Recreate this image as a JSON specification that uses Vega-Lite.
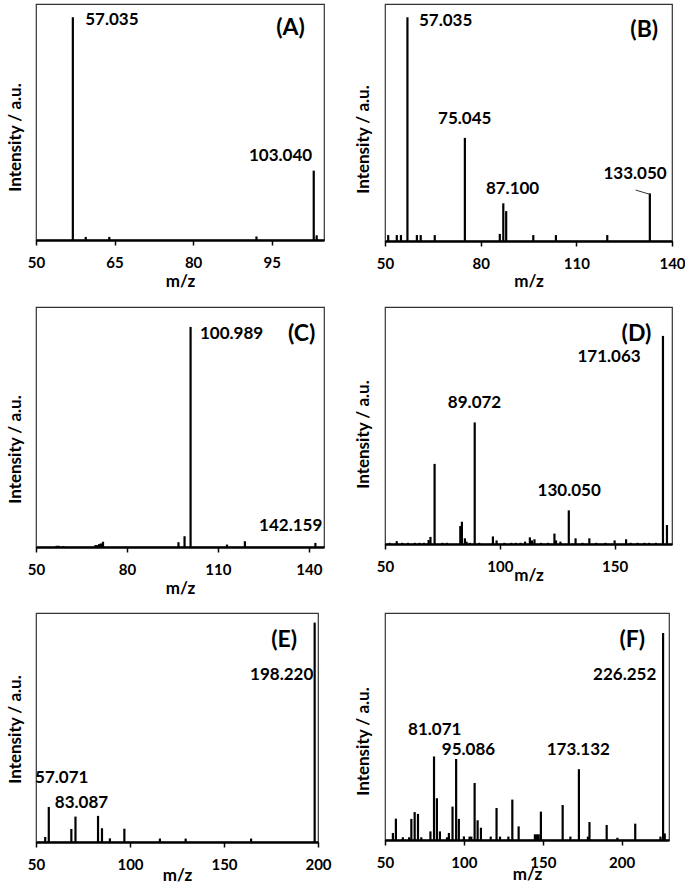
{
  "$schema": "https://vega.github.io/schema/vega-lite/v6.json",
  "padding": {"left": 5, "top": 3, "right": 0, "bottom": 0},
  "background": "white",
  "bounds": "flush",
  "columns": 2,
  "spacing": {"row": 66, "column": 61},
  "datasets": {
    "A": [
      {"mz": 57.035, "i": 94.4}, {"mz": 59.5, "i": 1.3}, {"mz": 64.0, "i": 1.3}, {"mz": 92.1, "i": 1.5},
      {"mz": 103.04, "i": 29.4}, {"mz": 103.6, "i": 2}
    ],
    "Alab": [
      {"mz": 64.5, "i": 93.4, "t": "57.035", "k": "p"},
      {"mz": 96.7, "i": 35.5, "t": "103.040", "k": "p"},
      {"mz": 98.6, "i": 89.8, "t": "(A)", "k": "L"}
    ],
    "B": [
      {"mz": 51, "i": 2.5}, {"mz": 53.7, "i": 2.5}, {"mz": 55, "i": 2.5}, {"mz": 57.035, "i": 94.4},
      {"mz": 60, "i": 2.5}, {"mz": 61.2, "i": 2.5}, {"mz": 65.6, "i": 2.5}, {"mz": 75.045, "i": 43.5},
      {"mz": 86.0, "i": 3}, {"mz": 87.1, "i": 15.9}, {"mz": 88, "i": 12.6}, {"mz": 96.5, "i": 2.5},
      {"mz": 103.6, "i": 2.5}, {"mz": 119.7, "i": 2.5}, {"mz": 133.05, "i": 20.1}
    ],
    "Blab": [
      {"mz": 69, "i": 93, "t": "57.035", "k": "p"},
      {"mz": 75, "i": 51.3, "t": "75.045", "k": "p"},
      {"mz": 90, "i": 22, "t": "87.100", "k": "p"},
      {"mz": 128.4, "i": 28.4, "t": "133.050", "k": "p"},
      {"mz": 131.3, "i": 89.1, "t": "(B)", "k": "L"}
    ],
    "Blead": [{"mz": 128.6, "i": 21.5, "mz2": 133.0, "i2": 19.7}],
    "C": [
      {"mz": 56.8, "i": 0.5}, {"mz": 57.5, "i": 0.5}, {"mz": 59, "i": 0.4}, {"mz": 69.6, "i": 0.8},
      {"mz": 70.2, "i": 0.8}, {"mz": 70.8, "i": 1.2}, {"mz": 71.4, "i": 1.5}, {"mz": 72.1, "i": 2.2},
      {"mz": 97, "i": 2}, {"mz": 99, "i": 4.5}, {"mz": 100.989, "i": 91.7}, {"mz": 113, "i": 1},
      {"mz": 118.9, "i": 2.4}, {"mz": 142.159, "i": 1.7}
    ],
    "Clab": [
      {"mz": 114.5, "i": 88.6, "t": "100.989", "k": "p"},
      {"mz": 134, "i": 8.9, "t": "142.159", "k": "p"},
      {"mz": 137.6, "i": 88.9, "t": "(C)", "k": "L"}
    ],
    "D": [
      {"mz": 52, "i": 0.5}, {"mz": 55.1, "i": 1.2}, {"mz": 57.5, "i": 0.5}, {"mz": 60, "i": 0.5},
      {"mz": 63, "i": 0.5}, {"mz": 65, "i": 0.5}, {"mz": 67, "i": 0.5}, {"mz": 69, "i": 1.7},
      {"mz": 69.8, "i": 3}, {"mz": 71.6, "i": 33.8}, {"mz": 75, "i": 0.5}, {"mz": 77, "i": 0.5},
      {"mz": 82.8, "i": 7.6}, {"mz": 83.5, "i": 9.4}, {"mz": 84.8, "i": 2.4}, {"mz": 85.5, "i": 1},
      {"mz": 87, "i": 0.5}, {"mz": 89.072, "i": 51.3}, {"mz": 91, "i": 0.5}, {"mz": 97, "i": 3.2},
      {"mz": 98.6, "i": 1.5}, {"mz": 102, "i": 0.5}, {"mz": 105, "i": 0.5}, {"mz": 107, "i": 0.5},
      {"mz": 109, "i": 0.5}, {"mz": 111, "i": 1}, {"mz": 113.1, "i": 2.8}, {"mz": 114, "i": 1.5},
      {"mz": 115.1, "i": 2}, {"mz": 118, "i": 0.5}, {"mz": 121, "i": 0.5}, {"mz": 123.8, "i": 4.4},
      {"mz": 124.5, "i": 1.5}, {"mz": 126.4, "i": 1}, {"mz": 130.05, "i": 14.2}, {"mz": 133, "i": 2.4},
      {"mz": 136, "i": 0.5}, {"mz": 139, "i": 2.4}, {"mz": 142, "i": 0.5}, {"mz": 146, "i": 0.5},
      {"mz": 150, "i": 1.5}, {"mz": 155, "i": 2}, {"mz": 157, "i": 0.5}, {"mz": 160, "i": 0.5},
      {"mz": 163, "i": 0.5}, {"mz": 165, "i": 0.5}, {"mz": 168, "i": 0.5}, {"mz": 171.063, "i": 87.8},
      {"mz": 172.8, "i": 8}
    ],
    "Dlab": [
      {"mz": 147.6, "i": 78.9, "t": "171.063", "k": "p"},
      {"mz": 89, "i": 59.6, "t": "89.072", "k": "p"},
      {"mz": 130.2, "i": 22.5, "t": "130.050", "k": "p"},
      {"mz": 159.5, "i": 88.8, "t": "(D)", "k": "L"}
    ],
    "E": [
      {"mz": 54.9, "i": 2.2}, {"mz": 56.8, "i": 15.3}, {"mz": 68.8, "i": 5.7}, {"mz": 71, "i": 11.1},
      {"mz": 83, "i": 11.4}, {"mz": 85.1, "i": 6}, {"mz": 89.3, "i": 1.6}, {"mz": 97, "i": 5.8},
      {"mz": 115.9, "i": 1.5}, {"mz": 129.6, "i": 1.5}, {"mz": 164.4, "i": 1.5}, {"mz": 198.22, "i": 95.8}
    ],
    "Elab": [
      {"mz": 63.7, "i": 28.1, "t": "57.071", "k": "p"},
      {"mz": 74.2, "i": 17.2, "t": "83.087", "k": "p"},
      {"mz": 180.7, "i": 73.1, "t": "198.220", "k": "p"},
      {"mz": 182, "i": 88, "t": "(E)", "k": "L"}
    ],
    "F": [
      {"mz": 55, "i": 3.1}, {"mz": 56.9, "i": 9.4}, {"mz": 61.3, "i": 1.2}, {"mz": 65.3, "i": 1.2},
      {"mz": 66.7, "i": 9.3}, {"mz": 68.8, "i": 12.3}, {"mz": 70.9, "i": 11.5}, {"mz": 73, "i": 1.2},
      {"mz": 78.8, "i": 3.8}, {"mz": 81.071, "i": 36.8}, {"mz": 82.9, "i": 18.4}, {"mz": 84.8, "i": 3.8},
      {"mz": 89.3, "i": 1.2}, {"mz": 90.5, "i": 3.1}, {"mz": 92.8, "i": 14.7}, {"mz": 95.086, "i": 35.7},
      {"mz": 96.8, "i": 9.3}, {"mz": 100, "i": 1.6}, {"mz": 103.6, "i": 1.5}, {"mz": 104.7, "i": 1.5},
      {"mz": 106.8, "i": 25.1}, {"mz": 108.7, "i": 8.7}, {"mz": 110.8, "i": 5.4}, {"mz": 117, "i": 1.5},
      {"mz": 120.7, "i": 14.1}, {"mz": 122.9, "i": 1.5}, {"mz": 128.2, "i": 1.5}, {"mz": 130.7, "i": 17.8},
      {"mz": 134.7, "i": 6}, {"mz": 145, "i": 2.5}, {"mz": 146.3, "i": 2.5}, {"mz": 147.4, "i": 2.5},
      {"mz": 148.8, "i": 12.5}, {"mz": 162.6, "i": 15.4}, {"mz": 167.5, "i": 1.5}, {"mz": 172.9, "i": 31.2},
      {"mz": 178.6, "i": 1.5}, {"mz": 179.6, "i": 7.9}, {"mz": 190.5, "i": 6.6}, {"mz": 197.3, "i": 1},
      {"mz": 208.6, "i": 7.2}, {"mz": 224.6, "i": 1.5}, {"mz": 226.252, "i": 91.2}, {"mz": 227.3, "i": 2.9}
    ],
    "Flab": [
      {"mz": 81.5, "i": 48.5, "t": "81.071", "k": "p"},
      {"mz": 102.9, "i": 39.7, "t": "95.086", "k": "p"},
      {"mz": 172.5, "i": 39.7, "t": "173.132", "k": "p"},
      {"mz": 201.9, "i": 72.5, "t": "226.252", "k": "p"},
      {"mz": 206.7, "i": 87.9, "t": "(F)", "k": "L"}
    ]
  },
  "concat": [
    {
      "width": 288, "height": 236,
      "layer": [
        {"data": {"name": "A"}, "mark": {"type": "rule", "color": "black", "strokeWidth": 2.2},
         "encoding": {
           "x": {"field": "mz", "type": "quantitative", "scale": {"domain": [50, 105], "nice": false, "zero": false},
                 "axis": {"values": [50, 65, 80, 95], "title": "m/z", "titleY": 41}},
           "y": {"field": "i", "type": "quantitative", "scale": {"domain": [0, 100], "nice": false},
                 "axis": {"title": "Intensity / a.u.", "titleX": -21, "titleY": 133}},
           "y2": {"datum": 0}}},
        {"data": {"name": "Alab"}, "transform": [{"filter": "datum.k == 'p'"}], "mark": {"type": "text"},
         "encoding": {"x": {"field": "mz", "type": "quantitative"}, "y": {"field": "i", "type": "quantitative"}, "text": {"field": "t"}}},
        {"data": {"name": "Alab"}, "transform": [{"filter": "datum.k == 'L'"}], "mark": {"type": "text", "fontSize": 23},
         "encoding": {"x": {"field": "mz", "type": "quantitative"}, "y": {"field": "i", "type": "quantitative"}, "text": {"field": "t"}}}
      ]
    },
    {
      "width": 287, "height": 237,
      "layer": [
        {"data": {"name": "B"}, "mark": {"type": "rule", "color": "black", "strokeWidth": 2.2},
         "encoding": {
           "x": {"field": "mz", "type": "quantitative", "scale": {"domain": [50, 140], "nice": false, "zero": false},
                 "axis": {"values": [50, 80, 110, 140], "title": "m/z", "titleY": 40}},
           "y": {"field": "i", "type": "quantitative", "scale": {"domain": [0, 100], "nice": false},
                 "axis": {"title": "Intensity / a.u.", "titleX": -22, "titleY": 135}},
           "y2": {"datum": 0}}},
        {"data": {"name": "Blead"}, "mark": {"type": "rule", "color": "#333", "strokeWidth": 1},
         "encoding": {"x": {"field": "mz", "type": "quantitative"}, "y": {"field": "i", "type": "quantitative"},
                      "x2": {"field": "mz2"}, "y2": {"field": "i2"}}},
        {"data": {"name": "Blab"}, "transform": [{"filter": "datum.k == 'p'"}], "mark": {"type": "text"},
         "encoding": {"x": {"field": "mz", "type": "quantitative"}, "y": {"field": "i", "type": "quantitative"}, "text": {"field": "t"}}},
        {"data": {"name": "Blab"}, "transform": [{"filter": "datum.k == 'L'"}], "mark": {"type": "text", "fontSize": 23},
         "encoding": {"x": {"field": "mz", "type": "quantitative"}, "y": {"field": "i", "type": "quantitative"}, "text": {"field": "t"}}}
      ]
    },
    {
      "width": 288, "height": 240,
      "layer": [
        {"data": {"name": "C"}, "mark": {"type": "rule", "color": "black", "strokeWidth": 2.2},
         "encoding": {
           "x": {"field": "mz", "type": "quantitative", "scale": {"domain": [50, 145], "nice": false, "zero": false},
                 "axis": {"values": [50, 80, 110, 140], "title": "m/z", "titleY": 41}},
           "y": {"field": "i", "type": "quantitative", "scale": {"domain": [0, 100], "nice": false},
                 "axis": {"title": "Intensity / a.u.", "titleX": -21, "titleY": 142}},
           "y2": {"datum": 0}}},
        {"data": {"name": "Clab"}, "transform": [{"filter": "datum.k == 'p'"}], "mark": {"type": "text"},
         "encoding": {"x": {"field": "mz", "type": "quantitative"}, "y": {"field": "i", "type": "quantitative"}, "text": {"field": "t"}}},
        {"data": {"name": "Clab"}, "transform": [{"filter": "datum.k == 'L'"}], "mark": {"type": "text", "fontSize": 23},
         "encoding": {"x": {"field": "mz", "type": "quantitative"}, "y": {"field": "i", "type": "quantitative"}, "text": {"field": "t"}}}
      ]
    },
    {
      "width": 287, "height": 237,
      "layer": [
        {"data": {"name": "D"}, "mark": {"type": "rule", "color": "black", "strokeWidth": 2.2},
         "encoding": {
           "x": {"field": "mz", "type": "quantitative", "scale": {"domain": [50, 175], "nice": false, "zero": false},
                 "axis": {"values": [50, 100, 150], "title": "m/z", "titleY": 31}},
           "y": {"field": "i", "type": "quantitative", "scale": {"domain": [0, 100], "nice": false},
                 "axis": {"title": "Intensity / a.u.", "titleX": -22, "titleY": 127}},
           "y2": {"datum": 0}}},
        {"data": {"name": "Dlab"}, "transform": [{"filter": "datum.k == 'p'"}], "mark": {"type": "text"},
         "encoding": {"x": {"field": "mz", "type": "quantitative"}, "y": {"field": "i", "type": "quantitative"}, "text": {"field": "t"}}},
        {"data": {"name": "Dlab"}, "transform": [{"filter": "datum.k == 'L'"}], "mark": {"type": "text", "fontSize": 23},
         "encoding": {"x": {"field": "mz", "type": "quantitative"}, "y": {"field": "i", "type": "quantitative"}, "text": {"field": "t"}}}
      ]
    },
    {
      "width": 282, "height": 229,
      "layer": [
        {"data": {"name": "E"}, "mark": {"type": "rule", "color": "black", "strokeWidth": 2.2},
         "encoding": {
           "x": {"field": "mz", "type": "quantitative", "scale": {"domain": [50, 200], "nice": false, "zero": false},
                 "axis": {"values": [50, 100, 150, 200], "title": "m/z", "titleY": 33}},
           "y": {"field": "i", "type": "quantitative", "scale": {"domain": [0, 100], "nice": false},
                 "axis": {"title": "Intensity / a.u.", "titleX": -21, "titleY": 116}},
           "y2": {"datum": 0}}},
        {"data": {"name": "Elab"}, "transform": [{"filter": "datum.k == 'p'"}], "mark": {"type": "text"},
         "encoding": {"x": {"field": "mz", "type": "quantitative"}, "y": {"field": "i", "type": "quantitative"}, "text": {"field": "t"}}},
        {"data": {"name": "Elab"}, "transform": [{"filter": "datum.k == 'L'"}], "mark": {"type": "text", "fontSize": 23},
         "encoding": {"x": {"field": "mz", "type": "quantitative"}, "y": {"field": "i", "type": "quantitative"}, "text": {"field": "t"}}}
      ]
    },
    {
      "width": 284, "height": 227,
      "layer": [
        {"data": {"name": "F"}, "mark": {"type": "rule", "color": "black", "strokeWidth": 2.2},
         "encoding": {
           "x": {"field": "mz", "type": "quantitative", "scale": {"domain": [50, 230], "nice": false, "zero": false},
                 "axis": {"values": [50, 100, 150, 200], "title": "m/z", "titleY": 34}},
           "y": {"field": "i", "type": "quantitative", "scale": {"domain": [0, 100], "nice": false},
                 "axis": {"title": "Intensity / a.u.", "titleX": -22, "titleY": 128}},
           "y2": {"datum": 0}}},
        {"data": {"name": "Flab"}, "transform": [{"filter": "datum.k == 'p'"}], "mark": {"type": "text"},
         "encoding": {"x": {"field": "mz", "type": "quantitative"}, "y": {"field": "i", "type": "quantitative"}, "text": {"field": "t"}}},
        {"data": {"name": "Flab"}, "transform": [{"filter": "datum.k == 'L'"}], "mark": {"type": "text", "fontSize": 23},
         "encoding": {"x": {"field": "mz", "type": "quantitative"}, "y": {"field": "i", "type": "quantitative"}, "text": {"field": "t"}}}
      ]
    }
  ],
  "config": {
    "font": "Lato",
    "view": {"stroke": "#333", "strokeWidth": 1.2},
    "text": {"font": "Lato", "fontWeight": "bold", "fontSize": 17, "color": "black", "align": "center", "baseline": "middle"},
    "axis": {"grid": false, "labelFont": "Lato", "labelFontWeight": "bold", "labelFontSize": 15, "labelColor": "black",
             "titleFont": "Lato", "titleFontWeight": "bold", "titleFontSize": 17, "titleColor": "black", "labelOverlap": false, "labelFlush": false},
    "axisX": {"tickSize": 5, "tickColor": "black", "tickWidth": 1.5, "domainColor": "black", "domainWidth": 2.5, "labelPadding": 10, "titleBaseline": "middle"},
    "axisY": {"labels": false, "ticks": false, "domain": false, "titleBaseline": "middle"}
  }
}
